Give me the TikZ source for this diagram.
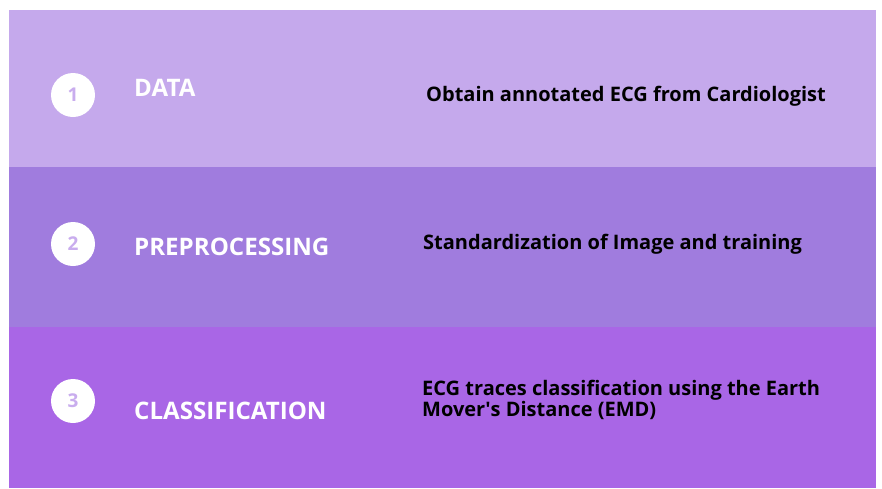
\documentclass[tikz,border=0pt]{standalone}
\usepackage{fontspec}
\setmainfont{Open Sans}
\newfontfamily\labelfont{Open Sans}
\definecolor{bandone}{RGB}{197,169,236}
\definecolor{bandtwo}{RGB}{160,124,222}
\definecolor{bandthree}{RGB}{169,102,230}
\definecolor{numcol}{RGB}{201,173,238}
\tikzset{
    stepnum/.style={circle,fill=white,minimum size=44pt,inner sep=0pt,text=numcol,font=\labelfont\bfseries\fontsize{19}{19}\selectfont},
    steplabel/.style={anchor=base west,inner sep=0pt,text=white,font=\labelfont\bfseries\fontsize{24.1}{24.1}\selectfont},
    stepdesc/.style={anchor=base west,inner sep=0pt,align=left,font=\bfseries\fontsize{20}{18.4}\selectfont}
}
\begin{document}
\begin{tikzpicture}[x=1pt,y=-1pt]
                    \useasboundingbox[fill=white] (0,0) rectangle (882,488);

                    \fill[bandone]   (9,10)  rectangle (876,167);
                    \fill[bandtwo]   (9,167) rectangle (876,327);
                    \fill[bandthree] (9,327) rectangle (876,488);

                    \node[stepnum] (num1) at (73,95)  {1};
                    \node[stepnum] (num2) at (73,244) {2};
                    \node[stepnum] (num3) at (73,401) {3};

                    \node[steplabel] (data) at (134,96.7) {DATA};
                    \node[steplabel] (prep) at (134,255)  {PREPROCESSING};
                    \node[steplabel] (clas) at (134,419)  {CLASSIFICATION};

                    \node[stepdesc] (obtain) at (426,101) {Obtain annotated ECG from Cardiologist};
                    \node[stepdesc] (stand)  at (423,249) {Standardization of Image and training};
                    \node[stepdesc] (traces) at (422,416.7) {ECG traces classification using the Earth\\Mover\textquotesingle s Distance (EMD)};
                    % \node at (450,470) {EMD};

\end{tikzpicture}
\end{document}
